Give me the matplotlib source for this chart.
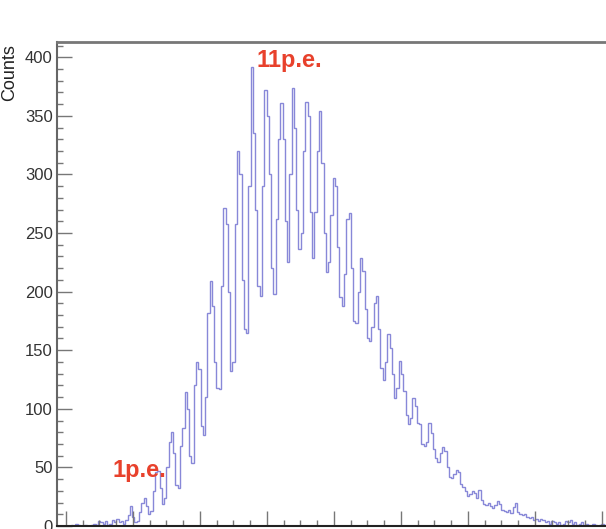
import numpy as np
import matplotlib
matplotlib.use("Agg")
from matplotlib import pyplot as plt
from matplotlib import font_manager
from matplotlib.ticker import MultipleLocator

# histogram contents (counts per bin)
counts = [
    0, 0, 0, 0, 0, 0, 1, 0, 2, 1,
    0, 0, 1, 0, 0, 1, 2, 1, 4, 3,
    2, 4, 1, 2, 5, 3, 6, 3, 4, 2,
    5, 9, 17, 8, 3, 4, 12, 20, 24, 17,
    10, 13, 30, 46, 47, 32, 19, 24, 50, 72,
    80, 62, 35, 32, 68, 84, 114, 100, 60, 54,
    120, 140, 134, 85, 78, 110, 182, 209, 188, 140,
    118, 117, 205, 271, 258, 200, 132, 140, 258, 320,
    300, 210, 168, 165, 290, 392, 335, 270, 205, 196,
    290, 372, 350, 300, 220, 198, 262, 330, 361, 330,
    260, 225, 300, 374, 340, 270, 236, 250, 320, 362,
    350, 268, 229, 268, 320, 354, 310, 250, 217, 225,
    265, 297, 290, 238, 195, 188, 215, 262, 267, 220,
    175, 173, 200, 229, 218, 185, 160, 158, 170, 190,
    196, 168, 135, 125, 140, 164, 152, 130, 109, 118,
    141, 130, 115, 95, 87, 92, 109, 102, 88, 87,
    70, 68, 72, 88, 79, 66, 58, 55, 62, 67,
    64, 50, 42, 41, 44, 48, 46, 36, 33, 30,
    26, 27, 30, 28, 24, 31, 22, 19, 18, 20,
    17, 15, 18, 21, 19, 14, 13, 12, 14, 11,
    16, 20, 12, 10, 9, 10, 8, 7, 8, 5,
    6, 4, 6, 5, 3, 4, 2, 4, 3, 2,
    3, 1, 2, 4, 3, 5, 2, 3, 1, 2,
    3, 1, 2, 1, 0, 2, 1, 0, 1, 2,
    1, 0, 0, 0, 0, 0, 0, 0, 0, 0,
    0, 0, 0, 0, 0,
]
bin_lo = -13.4
bin_w = 3.4

labels = ["1p.e.", "11p.e."]

names = {f.name for f in font_manager.fontManager.ttflist}
narrow = "Liberation Sans Narrow" if "Liberation Sans Narrow" in names else "Liberation Sans"

fig = plt.figure(figsize=(6.06, 5.29), dpi=100)
ax = fig.add_axes([57/606, 3/529, 578.5/606, 484/529])

edges = bin_lo + bin_w*np.arange(len(counts)+1)
ax.stairs(counts, edges, color="#5656c8", lw=1.0, alpha=0.7)

ax.set_xlim(-13.4, 850)
ax.set_ylim(0, 413)

ax.xaxis.set_major_locator(MultipleLocator(100))
ax.xaxis.set_minor_locator(MultipleLocator(25))
ax.yaxis.set_major_locator(MultipleLocator(50))
ax.yaxis.set_minor_locator(MultipleLocator(10))
ax.tick_params(which="both", direction="in", colors="#777777", labelcolor="#333333")
ax.tick_params(which="major", length=11, width=1.0)
ax.tick_params(which="minor", length=4.5, width=1.0)
ax.tick_params(axis="y", labelsize=12, pad=3)
ax.tick_params(axis="x", labelbottom=False)
for t in ax.get_yticklabels():
    t.set_fontfamily(narrow)

ax.spines["top"].set_color("#777777")
ax.spines["top"].set_linewidth(2)
ax.spines["left"].set_color("#666666")
ax.spines["left"].set_linewidth(1.5)
ax.spines["bottom"].set_color("#222222")
ax.spines["bottom"].set_linewidth(1.5)
ax.spines["right"].set_visible(False)

fig.text(10/606, (529-73)/529, "Counts", rotation=90, ha="center", va="center",
         fontsize=13, family="Liberation Sans", color="#222222")

fig.text(112/606, (529-477)/529, labels[0], color="#e8412c", fontsize=17,
         fontweight="bold", family=narrow, ha="left", va="baseline")
fig.text(257/606, (529-67)/529, labels[1], color="#e8412c", fontsize=17,
         fontweight="bold", family=narrow, ha="left", va="baseline")

plt.savefig("out.png", dpi=100)
